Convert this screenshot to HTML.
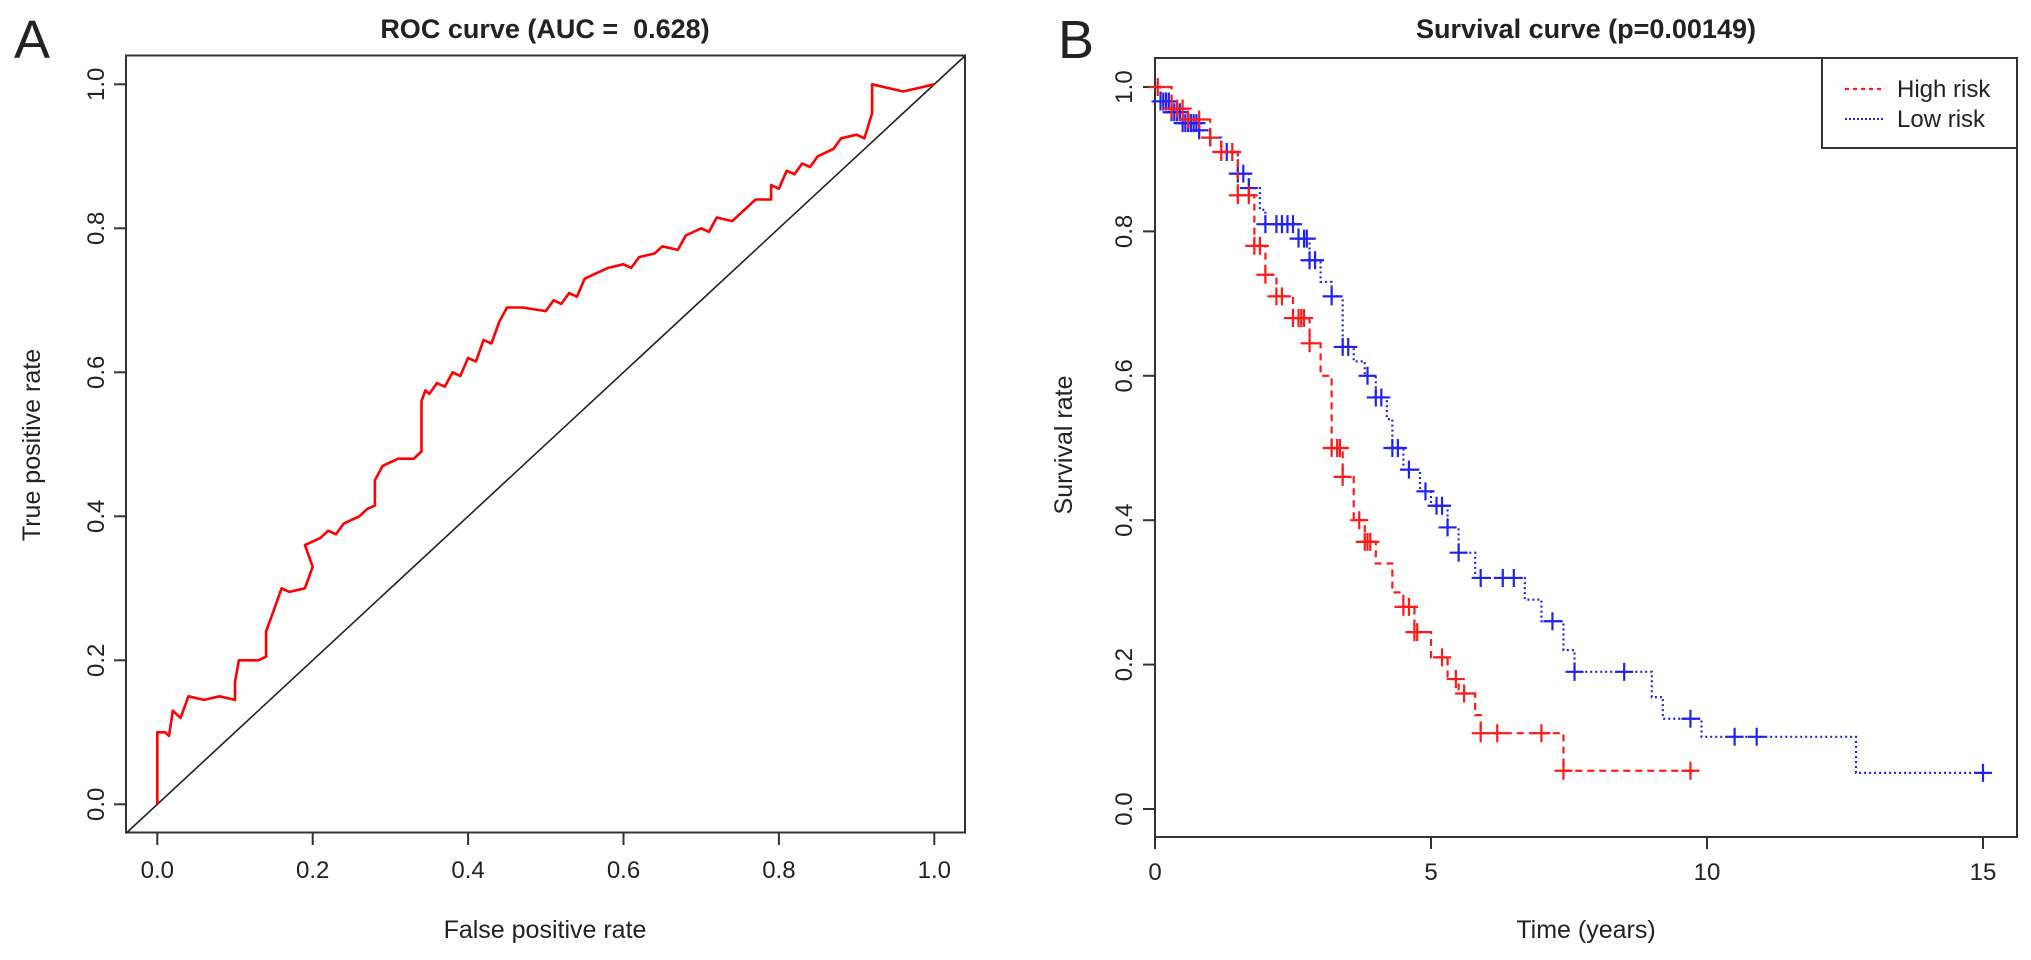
<!DOCTYPE html>
<html><head><meta charset="utf-8"><style>
html,body{margin:0;padding:0;background:#fff;}
svg{display:block;}
text{font-family:"Liberation Sans",Arial,sans-serif;fill:#222;}
</style></head><body>
<svg id="fig" width="2031" height="960" viewBox="0 0 2031 960" xmlns="http://www.w3.org/2000/svg">
<g id="pa"></g>
<g id="pb"></g>
</svg>
<script>
// ROC data
const rocFpr=[0,0,0.01,0.015,0.02,0.03,0.04,0.06,0.08,0.1,0.1,0.105,0.13,0.14,0.14,0.15,0.16,0.17,0.19,0.2,0.19,0.21,0.22,0.23,0.24,0.25,0.26,0.27,0.28,0.28,0.29,0.31,0.33,0.34,0.34,0.34,0.345,0.35,0.36,0.37,0.38,0.39,0.40,0.41,0.42,0.43,0.44,0.45,0.47,0.5,0.51,0.52,0.53,0.54,0.55,0.56,0.58,0.6,0.61,0.62,0.64,0.65,0.67,0.68,0.70,0.71,0.72,0.74,0.75,0.77,0.79,0.79,0.80,0.81,0.82,0.83,0.84,0.85,0.86,0.87,0.88,0.9,0.91,0.92,0.92,0.96,0.98,1.0];
const rocTpr=[0,0.1,0.1,0.095,0.13,0.12,0.15,0.145,0.15,0.145,0.17,0.2,0.2,0.205,0.24,0.27,0.3,0.295,0.3,0.33,0.36,0.37,0.38,0.375,0.39,0.395,0.40,0.41,0.415,0.45,0.47,0.48,0.48,0.49,0.52,0.56,0.575,0.57,0.585,0.58,0.60,0.595,0.62,0.615,0.645,0.64,0.67,0.69,0.69,0.685,0.70,0.695,0.71,0.705,0.73,0.735,0.745,0.75,0.745,0.76,0.765,0.775,0.77,0.79,0.80,0.795,0.815,0.81,0.82,0.84,0.84,0.86,0.855,0.88,0.875,0.89,0.885,0.90,0.905,0.91,0.925,0.93,0.925,0.96,1.0,0.99,0.995,1.0];
const rocTicks=["0.0","0.2","0.4","0.6","0.8","1.0"];
// Survival data (step times & survival after each time)
const highT=[0,0.3,0.6,1.0,1.2,1.5,1.8,2.0,2.2,2.5,2.8,3.0,3.2,3.4,3.6,3.8,4.0,4.3,4.5,4.7,5.0,5.3,5.5,5.8,5.9,7.4];
const highS=[1.0,0.97,0.955,0.93,0.91,0.85,0.78,0.74,0.71,0.68,0.645,0.6,0.5,0.46,0.4,0.37,0.34,0.3,0.28,0.245,0.21,0.18,0.16,0.13,0.105,0.053];
const highEnd=9.7;
const highCens=[0.05,0.3,0.4,0.5,0.6,0.8,1.0,1.2,1.4,1.5,1.7,1.8,1.9,2.0,2.2,2.3,2.5,2.6,2.65,2.7,2.8,3.2,3.3,3.35,3.4,3.7,3.8,3.85,3.9,4.5,4.6,4.7,4.75,5.2,5.45,5.6,5.9,6.2,7.0,7.4,9.7];
const lowT=[0,0.1,0.3,0.5,0.8,1.0,1.2,1.5,1.7,1.9,2.0,2.6,2.8,3.0,3.2,3.4,3.6,3.8,4.0,4.2,4.3,4.5,4.8,5.0,5.3,5.5,5.8,6.7,7.0,7.4,7.6,9.0,9.2,9.9,12.7];
const lowS=[1.0,0.98,0.965,0.95,0.94,0.93,0.91,0.88,0.86,0.83,0.81,0.79,0.76,0.73,0.71,0.64,0.62,0.6,0.57,0.54,0.5,0.47,0.44,0.42,0.39,0.355,0.32,0.29,0.26,0.22,0.19,0.155,0.125,0.1,0.05];
const lowEnd=15;
const lowCens=[0.1,0.15,0.2,0.25,0.3,0.35,0.4,0.45,0.5,0.55,0.6,0.65,0.7,0.75,0.8,1.0,1.3,1.5,1.6,1.7,2.0,2.2,2.3,2.4,2.5,2.6,2.7,2.75,2.8,2.9,3.2,3.4,3.5,3.85,4.0,4.1,4.3,4.4,4.6,4.9,5.1,5.2,5.3,5.5,5.9,6.3,6.5,7.2,7.6,8.5,9.7,10.5,10.9,15];
const survXTicks=[0,5,10,15];
const survYTicks=["0.0","0.2","0.4","0.6","0.8","1.0"];

const NS="http://www.w3.org/2000/svg";
function mk(parent,tag,attrs,txt){const e=document.createElementNS(NS,tag);for(const k in attrs)e.setAttribute(k,attrs[k]);if(txt!==undefined)e.textContent=txt;parent.appendChild(e);return e;}

// ---------- Panel A ----------
const pa=document.getElementById('pa');
const ax=v=>157.3+v*777, ay=v=>804.3-v*720;
let t=mk(pa,'text',{x:14,y:58,'font-size':54});


t.textContent='A';
t=mk(pa,'text',{x:545,y:38,'font-size':27,'font-weight':'bold','text-anchor':'middle'});


t.textContent='ROC curve (AUC =\u00a0 0.628)';
let r=mk(pa,'rect',{x:126,y:55.5,width:839,height:777,fill:'none',stroke:'#333','stroke-width':2});


rocTicks.forEach(s=>{const v=parseFloat(s);
  let l=mk(pa,'line',{x1:ax(v),x2:ax(v),y1:833,y2:845,stroke:'#333','stroke-width':2});
  
  
  let tx=mk(pa,'text',{x:ax(v),y:878,'font-size':24,'text-anchor':'middle'},s);
  
  
  l=mk(pa,'line',{x1:114,x2:126,y1:ay(v),y2:ay(v),stroke:'#333','stroke-width':2});
  
  
  tx=mk(pa,'text',{x:0,y:0,'font-size':24,'text-anchor':'middle',transform:`translate(104,${ay(v)}) rotate(-90)`},s);
  
  
});
t=mk(pa,'text',{x:545,y:938,'font-size':25,'text-anchor':'middle'},'False positive rate');


t=mk(pa,'text',{x:0,y:0,'font-size':25,'text-anchor':'middle',transform:'translate(40,445) rotate(-90)'},'True positive rate');


let d=mk(pa,'line',{x1:126,y1:ay((126-157.3)/777),x2:965,y2:ay((965-157.3)/777),stroke:'#222','stroke-width':1.6});


let pts=rocFpr.map((f,i)=>ax(f).toFixed(1)+','+ay(rocTpr[i]).toFixed(1)).join(' ');
let pl=mk(pa,'polyline',{points:pts,fill:'none',stroke:'#f00','stroke-width':2.6,'stroke-linejoin':'round'});



// ---------- Panel B ----------
const pb=document.getElementById('pb');
const bx=v=>1155+v*55.2, by=v=>809-v*722;
t=mk(pb,'text',{x:1058,y:58,'font-size':54},'B');


t=mk(pb,'text',{x:1586,y:38,'font-size':27,'font-weight':'bold','text-anchor':'middle'},'Survival curve (p=0.00149)');


r=mk(pb,'rect',{x:1155,y:58,width:862,height:779,fill:'none',stroke:'#333','stroke-width':2});


survXTicks.forEach(v=>{
  let l=mk(pb,'line',{x1:bx(v),x2:bx(v),y1:837,y2:849,stroke:'#333','stroke-width':2});
  
  
  let tx=mk(pb,'text',{x:bx(v),y:880,'font-size':24,'text-anchor':'middle'},String(v));
  
  
});
survYTicks.forEach(s=>{const v=parseFloat(s);
  let l=mk(pb,'line',{x1:1143,x2:1155,y1:by(v),y2:by(v),stroke:'#333','stroke-width':2});
  
  
  let tx=mk(pb,'text',{x:0,y:0,'font-size':24,'text-anchor':'middle',transform:`translate(1132,${by(v)}) rotate(-90)`},s);
  
  
});
t=mk(pb,'text',{x:1586,y:938,'font-size':25,'text-anchor':'middle'},'Time (years)');


t=mk(pb,'text',{x:0,y:0,'font-size':25,'text-anchor':'middle',transform:'translate(1072,445) rotate(-90)'},'Survival rate');



function stepAt(T,S,x){let s=S[0];for(let i=0;i<T.length;i++){if(T[i]<=x)s=S[i];}return s;}
function stepPath(T,S,end){let p=`M${bx(T[0])},${by(S[0])}`;for(let i=1;i<T.length;i++){p+=` H${bx(T[i])} V${by(S[i])}`;}p+=` H${bx(end)}`;return p;}
function drawSeries(T,S,end,cens,color,dash,name){
  let p=mk(pb,'path',{d:stepPath(T,S,end),fill:'none',stroke:color,'stroke-width':2.2,'stroke-dasharray':dash});
  
  
  cens.forEach(c=>{const x=bx(c),y=by(stepAt(T,S,c));
    let m=mk(pb,'path',{d:`M${x-9},${y} H${x+9} M${x},${y-9} V${y+9}`,stroke:color,'stroke-width':2.2,fill:'none'});
    
    
  });
}
drawSeries(lowT,lowS,lowEnd,lowCens,'#2222ee','2,3','low-risk');
drawSeries(highT,highS,highEnd,highCens,'#ff1a1a','7,5','high-risk');

// legend
const lg=mk(pb,'g',{});


r=mk(lg,'rect',{x:1822,y:58,width:195,height:90,fill:'#fff',stroke:'#333','stroke-width':2});


let ll=mk(lg,'line',{x1:1845,x2:1885,y1:89,y2:89,stroke:'#ff1a1a','stroke-width':2.2,'stroke-dasharray':'4,4'});


t=mk(lg,'text',{x:1897,y:97,'font-size':24},'High risk');


ll=mk(lg,'line',{x1:1845,x2:1885,y1:119,y2:119,stroke:'#2222ee','stroke-width':2,'stroke-dasharray':'2,2'});


t=mk(lg,'text',{x:1897,y:127,'font-size':24},'Low risk');


</script>
</body></html>
